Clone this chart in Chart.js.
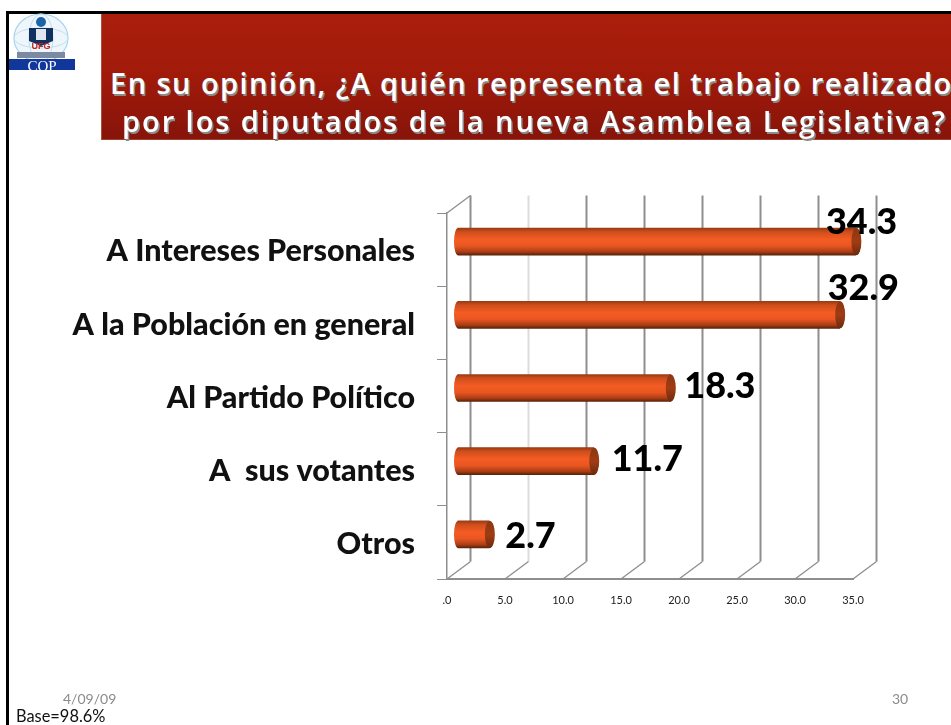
<!DOCTYPE html>
<html lang="es">
<head>
<meta charset="utf-8">
<style>
html,body{margin:0;padding:0;background:#fff;width:951px;height:725px;overflow:hidden}
#wrap{position:relative;width:951px;height:725px;overflow:hidden}
#wrap canvas{position:absolute;left:0;top:0}
.abs{position:absolute;white-space:nowrap}
#frameTop{left:6px;top:11px;width:945px;height:3px;background:#000}
#frameLeft{left:6px;top:11px;width:3px;height:714px;background:#000}
#header{left:101px;top:14px;width:850px;height:125px;background:linear-gradient(#ab1e0c,#a01a0a 50%,#87140a);border-left:1px solid #b0503c;border-bottom:1px solid #a24030}
.ttl{font:600 29px "Open Sans",sans-serif;color:#fff;text-shadow:1.5px 1.5px 0 #8a8a8a}
.foot{font:14px Lato,sans-serif;color:#8b8b8b}
</style>
</head>
<body>
<div id="wrap">
  <canvas id="c" width="951" height="725"></canvas>
  <div class="abs" id="header"></div>
  <div class="abs" id="frameTop"></div>
  <div class="abs" id="frameLeft"></div>
  <div class="abs ttl" id="t1" style="left:110px;top:63px;letter-spacing:1.45px">En su opinión, ¿A quién representa el trabajo realizado</div>
  <div class="abs ttl" id="t2" style="left:122px;top:101px;letter-spacing:1.95px">por los diputados de la nueva Asamblea Legislativa?</div>
  <svg class="abs" style="left:9px;top:13px" width="68" height="60" viewBox="0 0 68 60">
    <ellipse cx="32" cy="25" rx="27" ry="24" fill="#eef6fb" stroke="#a9d3ea" stroke-width="1.2"/>
    <ellipse cx="32" cy="25" rx="12" ry="24" fill="none" stroke="#bfe0f0"/>
    <ellipse cx="32" cy="25" rx="27" ry="10" fill="none" stroke="#bfe0f0"/>
    <circle cx="32" cy="9" r="5" fill="#1d63a8"/>
    <path d="M20 15h24v13l-12 5-12-5z" fill="#10305f"/>
    <rect x="27" y="16" width="10" height="11" fill="#dfe6ee"/>
    <text x="32" y="36" text-anchor="middle" font-family="Liberation Sans" font-weight="700" font-size="9" fill="#c5261c">UFG</text>
    <rect x="8" y="39" width="48" height="6" fill="#7b8aa0"/>
    <rect x="0" y="46" width="66" height="11" fill="#12379c"/>
    <text x="33" y="57.5" text-anchor="middle" font-family="Liberation Serif" font-size="15" fill="#fff">COP</text>
  </svg>
  <div class="abs foot" style="left:63px;top:690px">4/09/09</div>
  <div class="abs foot" style="left:892px;top:690px">30</div>
  <div class="abs" style="left:16px;top:706px;font:16.4px Lato,sans-serif;color:#111">Base=98.6%</div>
</div>
<script src="https://cdn.jsdelivr.net/npm/chart.js@4/dist/chart.umd.min.js"></script>
<script>
const categories = ["A Intereses Personales", "A la Población en general", "Al Partido Político", "A  sus votantes", "Otros"];
const seriesValues = [34.3, 32.9, 18.3, 11.7, 2.7];
const valueLabels = ["34.3", "32.9", "18.3", "11.7", "2.7"];
const xTickLabels = [".0", "5.0", "10.0", "15.0", "20.0", "25.0", "30.0", "35.0"];

const DEPTH_X = 23.5, DEPTH_Y = -17.5;
const BAR_DX = 11, BAR_DY = -8, CAP_RX = 5;
const GRID = "#8e8e8e";

function barGradient(ctx, y0, y1) {
  const g = ctx.createLinearGradient(0, y0, 0, y1);
  g.addColorStop(0, "#9a3a12");
  g.addColorStop(0.14, "#cf4e1c");
  g.addColorStop(0.42, "#f45c23");
  g.addColorStop(0.66, "#ea5621");
  g.addColorStop(0.88, "#a93d14");
  g.addColorStop(1, "#5a220b");
  return g;
}

const walls3d = {
  id: "walls3d",
  beforeDatasetsDraw(chart) {
    const { ctx, chartArea: a, scales: { x } } = chart;
    ctx.save();
    x.ticks.forEach((t, i) => {
      const px = x.getPixelForValue(t.value);
      ctx.strokeStyle = i === 1 ? "#dcdcdc" : GRID;
      ctx.lineWidth = 2;
      ctx.beginPath();
      ctx.moveTo(px + DEPTH_X, a.bottom + DEPTH_Y);
      ctx.lineTo(px + DEPTH_X, a.top + DEPTH_Y);
      ctx.stroke();
      ctx.strokeStyle = GRID;
      ctx.lineWidth = 1.3;
      ctx.beginPath();
      ctx.moveTo(px, a.bottom);
      ctx.lineTo(px + DEPTH_X, a.bottom + DEPTH_Y);
      ctx.stroke();
    });
    ctx.beginPath();
    ctx.moveTo(a.left, a.top);
    ctx.lineTo(a.left + DEPTH_X, a.top + DEPTH_Y);
    ctx.stroke();
    ctx.restore();
  },
  beforeDatasetDraw(chart) {
    chart.ctx.save();
    chart.ctx.translate(BAR_DX, BAR_DY);
  },
  afterDatasetDraw(chart, args) {
    const ctx = chart.ctx;
    args.meta.data.forEach(el => {
      const h = el.height / 2;
      ctx.fillStyle = barGradient(ctx, el.y - h, el.y + h);
      ctx.beginPath();
      ctx.ellipse(el.base, el.y, CAP_RX - 1, h, 0, 0, Math.PI * 2);
      ctx.fill();
      ctx.beginPath();
      ctx.ellipse(el.x, el.y, CAP_RX, h, 0, 0, Math.PI * 2);
      ctx.fill();
      const g = ctx.createLinearGradient(0, el.y - h, 0, el.y + h);
      g.addColorStop(0, "#8a3812");
      g.addColorStop(0.5, "#a03c14");
      g.addColorStop(1, "#6c2a0e");
      ctx.fillStyle = g;
      ctx.beginPath();
      ctx.ellipse(el.x + 0.5, el.y, CAP_RX, h, 0, 0, Math.PI * 2);
      ctx.fill();
    });
    ctx.restore();
  }
};

const valueText = {
  id: "valueText",
  afterDatasetsDraw(chart, args, opts) {
    const { ctx } = chart;
    const els = chart.getDatasetMeta(0).data;
    ctx.save();
    ctx.font = opts.font;
    ctx.fillStyle = "#000";
    ctx.textAlign = "left";
    ctx.textBaseline = "middle";
    els.forEach((el, i) => {
      const o = opts.shift[i];
      ctx.fillText(valueLabels[i], el.x + BAR_DX + CAP_RX + o[0], el.y + BAR_DY + o[1]);
    });
    ctx.restore();
  }
};

new Chart(document.getElementById("c"), {
  type: "bar",
  data: {
    labels: categories,
    datasets: [{
      data: seriesValues,
      barThickness: 27,
      clip: false,
      borderWidth: 0,
      backgroundColor(c) {
        const y = c.chart.scales && c.chart.scales.y;
        if (!y || c.dataIndex === undefined) return "#e8541f";
        const py = y.getPixelForValue(c.dataIndex);
        if (!Number.isFinite(py)) return "#e8541f";
        return barGradient(c.chart.ctx, py - 13.5, py + 13.5);
      }
    }]
  },
  plugins: [walls3d, valueText],
  options: {
    indexAxis: "y",
    responsive: false,
    animation: false,
    devicePixelRatio: 1,
    layout: { padding: { top: 213, right: 98, left: 0, bottom: 0 } },
    plugins: {
      legend: { display: false },
      tooltip: { enabled: false },
      valueText: {
        font: '900 36px Lato, sans-serif',
        shift: [[-35, -19], [-17, -26], [9, -2], [13, -2], [11, 2]]
      }
    },
    scales: {
      x: {
        type: "linear",
        min: 0,
        max: 35,
        afterFit(s) { s.height = 146; },
        afterBuildTicks(s) { s.ticks = xTickLabels.map((_, i) => ({ value: i * 5 })); },
        grid: { display: false, drawTicks: false },
        border: { display: true, color: GRID, width: 2 },
        ticks: {
          padding: 15,
          autoSkip: false,
          maxRotation: 0,
          color: "#222",
          font: { family: "Lato, sans-serif", size: 11 },
          callback(v, i) { return xTickLabels[i]; }
        }
      },
      y: {
        type: "category",
        afterFit(s) { s.width = 447; },
        grid: { offset: true, drawOnChartArea: false, tickLength: 10, color: GRID, lineWidth: 1 },
        border: { display: true, color: GRID, width: 1.5 },
        ticks: {
          padding: 22,
          labelOffset: 2,
          autoSkip: false,
          color: "#111",
          font: { family: "Lato, sans-serif", size: 30.5, weight: "900" }
        }
      }
    }
  }
});
</script>
</body>
</html>
